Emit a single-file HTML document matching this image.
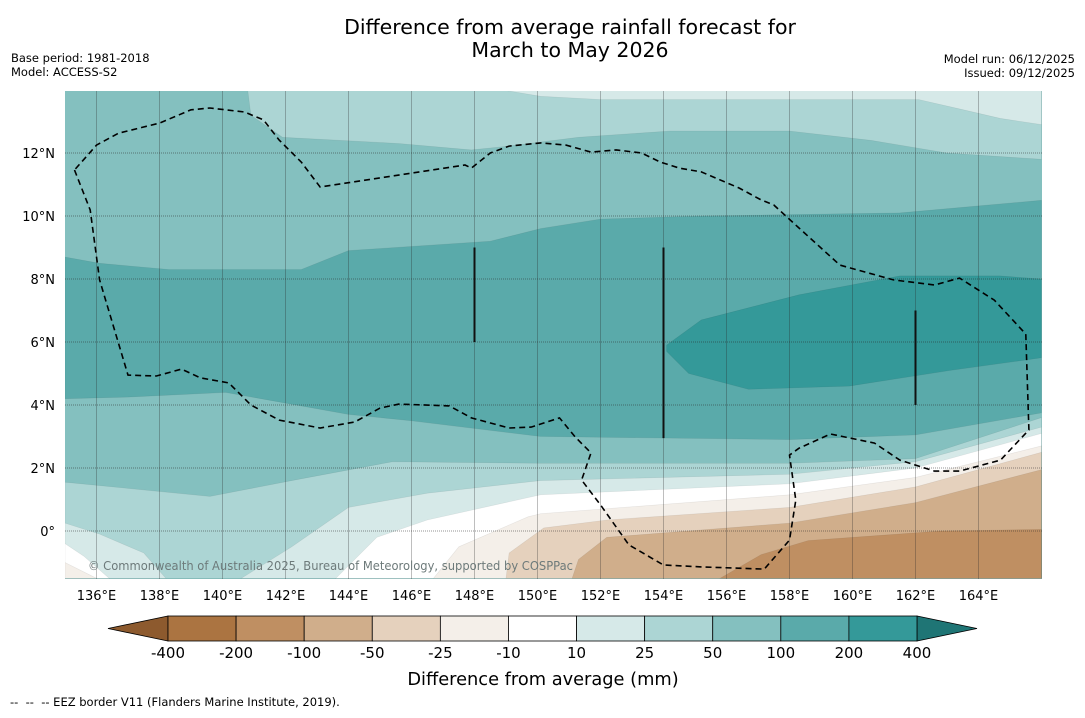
<!DOCTYPE html>
<html><head><meta charset="utf-8"><style>
body{margin:0;background:#fff;width:1085px;height:713px;overflow:hidden;font-family:"Liberation Sans","DejaVu Sans",sans-serif;}
svg text{font-family:"DejaVu Sans","Liberation Sans",sans-serif;}
</style></head><body>
<svg id="chart" width="1085" height="713" xmlns="http://www.w3.org/2000/svg">
<text x="570" y="34" text-anchor="middle" font-size="20.5">Difference from average rainfall forecast for</text>
<text x="570" y="57" text-anchor="middle" font-size="20.5">March to May 2026</text>
<text x="11" y="62" font-size="11.5">Base period: 1981-2018</text>
<text x="11" y="76" font-size="11.5">Model: ACCESS-S2</text>
<text x="1075" y="63" text-anchor="end" font-size="11.5">Model run: 06/12/2025</text>
<text x="1075" y="77" text-anchor="end" font-size="11.5">Issued: 09/12/2025</text>
<defs><clipPath id="mapclip"><rect x="65" y="91" width="977" height="488"/></clipPath></defs>
<g id="map" clip-path="url(#mapclip)"></g>
<g id="axes"></g>
<g id="cbar"></g>
<text x="543" y="685" text-anchor="middle" font-size="17.8">Difference from average (mm)</text>
<text x="10" y="706" font-size="11.5" style="white-space:pre" xml:space="preserve">--  --  -- EEZ border V11 (Flanders Marine Institute, 2019).</text>
</svg>
<script>
// ---- data (lon, lat) ----
const lonTicks=[136,138,140,142,144,146,148,150,152,154,156,158,160,162,164];
const latTicks=[0,2,4,6,8,10,12];
const cbLabels=["-400","-200","-100","-50","-25","-10","10","25","50","100","200","400"];
const cbColors=["#ab7441","#bf8f62","#d0ae8b","#e5d1bd","#f4efe9","#ffffff","#d6e9e8","#acd5d4","#84c0bf","#5aaaaa","#349999"];
const band25top=[[140.8,14.0],[140.9,13.2],[141.9,12.5],[145.6,12.3],[147.9,12.1],[148.9,12.2],[151.3,12.5],[154.2,12.7],[158.0,12.7],[160.6,12.4],[163.0,12.0],[166,11.8],[166,14.0]];
const band10top=[[148.9,14.0],[150.1,13.8],[152.0,13.7],[158.3,13.7],[162.1,13.7],[163.4,13.4],[164.7,13.1],[166,12.9],[166,14.0]];
const band100Top=[[135,8.7],[136.1,8.5],[138.3,8.3],[142.5,8.3],[144.0,8.9],[148.5,9.2],[150.1,9.6],[152,9.9],[155.2,10.0],[161.5,10.1],[166,10.5]];
const band100Bot=[[135,4.2],[137,4.25],[140.1,4.4],[144,3.7],[146,3.5],[150.1,3.0],[158,2.9],[162,3.05],[166,3.75]];
const band200=[[154.1,5.9],[155.2,6.7],[158.3,7.5],[161.5,8.1],[164.7,8.1],[166,8.0],[166,5.5],[163.1,5.1],[159.9,4.6],[156.7,4.5],[154.8,5.0],[154.1,5.7]];
const band25low=[[135,1.55],[139.6,1.1],[142.2,1.6],[145.4,2.2],[150.1,2.15],[158,2.15],[162,2.3],[166,3.6],[166,-1.5],[135,-1.5]];
const band10R=[[140.6,-1.5],[142.2,-0.5],[144,0.75],[146.5,1.2],[150.1,1.6],[158,1.8],[162,2.2],[166,3.3],[166,-1.5]];
const band10L=[[135,0.25],[136.1,-0.1],[137.5,-0.7],[138.2,-1.5],[135,-1.5]];
const whiteR=[[143.6,-1.5],[144.9,-0.2],[146.5,0.35],[150.1,1.15],[158,1.5],[162,2.0],[166,3.1],[166,-1.5]];
const whiteL=[[135,-0.4],[135.6,-0.8],[136.4,-1.5],[135,-1.5]];
const neg10R=[[146.7,-1.5],[147.5,-0.5],[149.7,0.45],[150.1,0.55],[158,1.15],[162,1.7],[166,2.7],[166,-1.5]];
const neg10L=[[135,-1.0],[136.0,-1.5],[135,-1.5]];
const neg25=[[149,-1.5],[149.1,-0.7],[150.2,0.1],[152.2,0.35],[158,0.75],[162,1.4],[166,2.5],[166,-1.5]];
const neg50=[[151.1,-1.5],[151.3,-0.9],[152.2,-0.2],[158,0.25],[162,0.9],[166,1.95],[166,-1.5]];
const neg100=[[155.8,-1.5],[157.1,-0.75],[158.6,-0.3],[162.8,0],[166,0.05],[166,-1.5]];
const eez=[[135.3,11.46],[135.8,10.19],[136.1,7.97],[137,4.95],[137.9,4.92],[138.7,5.14],[139.3,4.86],[140.2,4.7],[140.9,4.0],[141.8,3.52],[143.1,3.27],[144.2,3.46],[145,3.9],[145.6,4.03],[147.2,3.97],[147.9,3.59],[149.1,3.27],[149.8,3.3],[150.7,3.59],[151.2,2.98],[151.7,2.48],[151.4,1.62],[152,0.83],[152.9,-0.44],[154,-1.08],[155.2,-1.14],[157.2,-1.21],[158,-0.29],[158.2,0.98],[158,2.41],[158.3,2.63],[159.3,3.08],[160.7,2.79],[161.5,2.25],[162.6,1.9],[163.4,1.9],[164.7,2.25],[165.6,3.21],[165.5,6.25],[164.5,7.33],[163.4,8.03],[162.6,7.81],[161.3,7.97],[159.6,8.44],[158.3,9.62],[157.5,10.35],[157.1,10.51],[156.4,10.89],[155.2,11.4],[154.5,11.52],[153.9,11.71],[153.3,12.0],[152.5,12.1],[151.7,12.03],[150.9,12.25],[150.1,12.32],[149.1,12.22],[148.5,12.0],[147.9,11.52],[147.7,11.62],[143.1,10.92],[142.5,11.71],[141.8,12.41],[141.3,13.05],[140.7,13.3],[139.6,13.43],[139,13.37],[138,12.95],[136.7,12.63],[136,12.25],[135.3,11.46]];
const meridLines=[[148,6.0,9.0],[154,2.95,9.0],[162,4.0,7.0]];
// ---- axes ----
const X=lon=>65+(lon-135)*31.5, Y=lat=>531-lat*31.5;
const NS="http://www.w3.org/2000/svg";
const map=document.getElementById('map'), axes=document.getElementById('axes'), cbar=document.getElementById('cbar');
function mk(tag,attrs,parent){const e=document.createElementNS(NS,tag);for(const k in attrs)e.setAttribute(k,attrs[k]);parent.appendChild(e);return e;}
const pts=a=>a.map(p=>X(p[0]).toFixed(1)+','+Y(p[1]).toFixed(1)).join(' ');
let bg=mk('rect',{x:65,y:91,width:977,height:488,fill:'#84c0bf'},map);


const layers=[[band25top,'#acd5d4','band-25-50-north'],[band10top,'#d6e9e8','band-10-25-north'],[band25low,'#acd5d4','band-25-50-south'],[band10R,'#d6e9e8','band-10-25-south'],[band10L,'#d6e9e8','band-10-25-west'],[whiteR,'#ffffff','band-neutral'],[whiteL,'#ffffff','band-neutral-west'],[neg10R,'#f4efe9','band-neg10-25'],[neg10L,'#f4efe9','band-neg10-25-west'],[neg25,'#e5d1bd','band-neg25-50'],[neg50,'#d0ae8b','band-neg50-100'],[neg100,'#bf8f62','band-neg100-200']];
for(const [d,c,n] of layers){
 const p=mk('polygon',{points:pts(d),fill:c,stroke:'rgba(0,0,0,0.08)','stroke-width':0.6},map);
 
 
}
const b100=mk('polygon',{points:pts(band100Top.concat(band100Bot.slice().reverse())),fill:'#5aaaaa',stroke:'rgba(0,0,0,0.08)','stroke-width':0.6},map);


const b200=mk('polygon',{points:pts(band200),fill:'#349999',stroke:'rgba(0,0,0,0.08)','stroke-width':0.6},map);


for(const lon of lonTicks){
 const l=mk('line',{x1:X(lon),x2:X(lon),y1:91,y2:579,stroke:'rgba(40,40,40,0.3)','stroke-width':1},map);
 
 
 const t=mk('text',{x:X(lon),y:600,'text-anchor':'middle','font-size':13},axes);
 t.textContent=lon+'°E';
 
 
}
for(const lat of latTicks){
 const l=mk('line',{x1:65,x2:1042,y1:Y(lat),y2:Y(lat),stroke:'rgba(40,40,40,0.5)','stroke-width':1,'stroke-dasharray':'1,1'},map);
 
 
 const t=mk('text',{x:55,y:Y(lat)+5,'text-anchor':'end','font-size':13},axes);
 t.textContent=lat===0?'0°':lat+'°N';
 
 
}
for(const m of meridLines){
 const l=mk('line',{x1:X(m[0]),x2:X(m[0]),y1:Y(m[2]),y2:Y(m[1]),stroke:'#111','stroke-width':2},map);
 
 
}
const ez=mk('polyline',{points:pts(eez),fill:'none',stroke:'#000','stroke-width':1.6,'stroke-dasharray':'6,4'},map);


const cp=mk('text',{x:88,y:570,'font-size':12,fill:'#6d7a7a',textLength:485,lengthAdjust:'spacingAndGlyphs'},map);
cp.textContent='© Commonwealth of Australia 2025, Bureau of Meteorology, supported by COSPPac';


// ---- colorbar ----
const cbX0=168,cbX1=917,cbY=616,cbH=25,w=(cbX1-cbX0)/cbColors.length;
const lt=mk('polygon',{points:`108,${cbY+cbH/2} ${cbX0},${cbY} ${cbX0},${cbY+cbH}`,fill:'#8d5a2e',stroke:'#000','stroke-width':0.8},cbar);


const rt=mk('polygon',{points:`977,${cbY+cbH/2} ${cbX1},${cbY} ${cbX1},${cbY+cbH}`,fill:'#1f7575',stroke:'#000','stroke-width':0.8},cbar);


cbColors.forEach((c,i)=>{
 const r=mk('rect',{x:cbX0+i*w,y:cbY,width:w,height:cbH,fill:c,stroke:'#000','stroke-width':0.8},cbar);
 
 
});
cbLabels.forEach((s,i)=>{
 const t=mk('text',{x:cbX0+i*w,y:658,'text-anchor':'middle','font-size':15},cbar);
 t.textContent=s;
 
 
});
</script>
</body></html>
